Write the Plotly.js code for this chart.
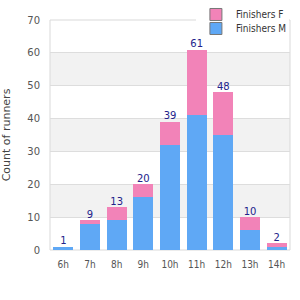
<!DOCTYPE html>
<html><head><meta charset="utf-8">
<script src="https://cdn.plot.ly/plotly-3.0.1.min.js"></script>
<style>html,body{margin:0;padding:0;background:#fff}#chart{width:300px;height:300px}</style>
</head><body><div id="chart"></div>
<script>
const categories = ["6h","7h","8h","9h","10h","11h","12h","13h","14h"];
const finishersM = [1, 8, 9, 16, 32, 41, 35, 6, 1];
const finishersF = [0, 1, 4, 4, 7, 20, 13, 4, 1];
const totals = categories.map((c,i)=>finishersM[i]+finishersF[i]);
const yTicks = [0,10,20,30,40,50,60,70];

const blue = "#5fa8f5", pink = "#f283b8";
const font = "DejaVu Sans, sans-serif";
const fontC = "DejaVu Sans Condensed, DejaVu Sans, sans-serif";

const traces = [
  {type:"bar", name:"Finishers M", x:categories, y:finishersM, marker:{color:blue}, showlegend:false, hoverinfo:"none"},
  {type:"bar", name:"Finishers F", x:categories, y:finishersF, marker:{color:pink}, showlegend:false, hoverinfo:"none"},
  {type:"scatter", mode:"text", x:categories, y:totals, text:totals.map(String), textposition:"top center",
   textfont:{color:"#22228b", size:10, family:font}, showlegend:false, hoverinfo:"none", cliponaxis:false},
  {type:"bar", name:"Finishers F", x:[null], y:[null], marker:{color:pink, line:{color:"#777", width:1}}, legend:"legend"},
  {type:"bar", name:"Finishers M", x:[null], y:[null], marker:{color:blue, line:{color:"#777", width:1}}, legend:"legend2"}
];

const shapes = [];
for (let i=0;i<yTicks.length-1;i++){
  if (i%2===1) shapes.push({type:"rect", xref:"paper", yref:"y", x0:0, x1:1, y0:yTicks[i], y1:yTicks[i+1],
    fillcolor:"#f2f2f2", line:{width:0}, layer:"below"});
}
shapes.push({type:"rect", xref:"paper", yref:"paper", x0:0, x1:1, y0:0, y1:1, line:{color:"#d9d9d9", width:1}, layer:"below"});

const legendBase = {x:0.608, xanchor:"left", yanchor:"top",
  font:{size:10, color:"#333", family:fontC}, itemwidth:30, traceorder:"normal"};

const layout = {
  width:300, height:300,
  margin:{l:50, r:10, t:20, b:50, autoexpand:false},
  paper_bgcolor:"#fff", plot_bgcolor:"#fff",
  font:{family:font, size:9, color:"#444"},
  barmode:"stack", bargap:0.25,
  shapes:shapes,
  xaxis:{type:"category", showgrid:false, zeroline:false, showline:false, ticks:"outside", ticklen:5,
    tickcolor:"rgba(0,0,0,0)", tickfont:{size:10, color:"#555", family:fontC}, fixedrange:true, automargin:false},
  yaxis:{range:[0,70], tickvals:yTicks, showgrid:true, gridcolor:"#dddddd", zeroline:false, showline:false,
    ticks:"outside", ticklen:7, tickcolor:"rgba(0,0,0,0)", tickfont:{size:10, color:"#555"},
    title:{text:"Count of runners", font:{size:11, color:"#444"}, standoff:14}, fixedrange:true, automargin:false},
  legend:Object.assign({}, legendBase, {y:1.087, bgcolor:"#fff"}),
  legend2:Object.assign({}, legendBase, {y:1.0261, bgcolor:"rgba(0,0,0,0)"}),
  showlegend:true
};
Plotly.newPlot("chart", traces, layout, {staticPlot:true, displayModeBar:false});
</script></body></html>
